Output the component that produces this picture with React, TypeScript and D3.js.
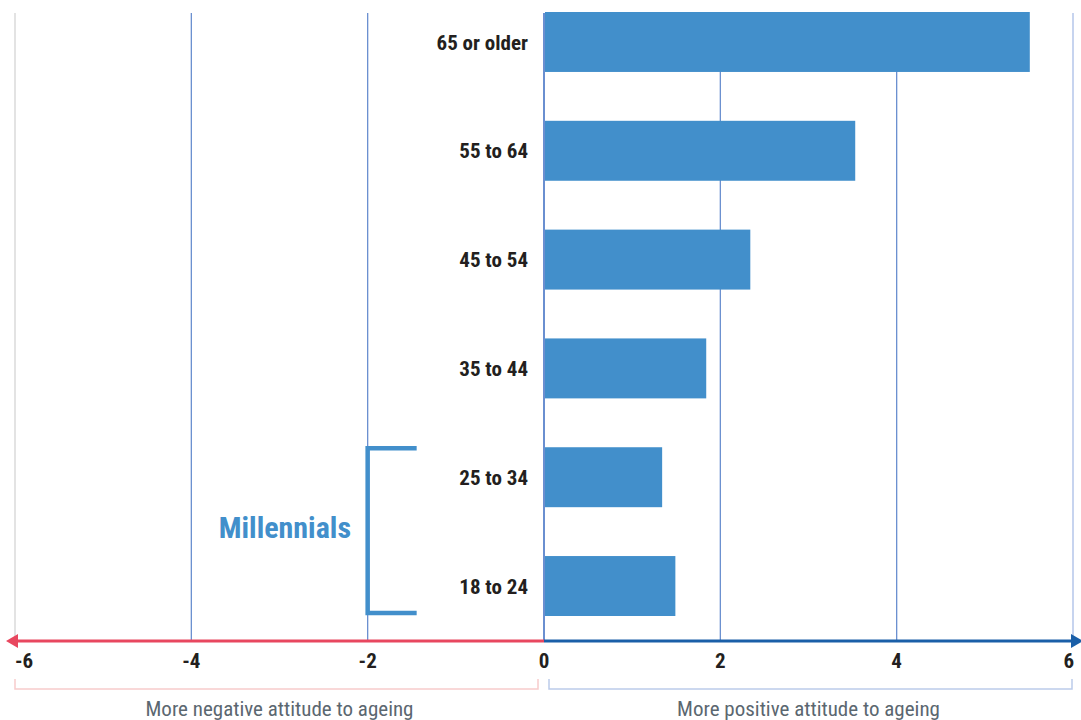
import React from "react";
import * as d3 from "d3";

const categories = ["65 or older", "55 to 64", "45 to 54", "35 to 44", "25 to 34", "18 to 24"];
const values = [5.51, 3.53, 2.34, 1.84, 1.34, 1.49];
const tickValues = [-6, -4, -2, 0, 2, 4, 6];
const negLabel = "More negative attitude to ageing";
const posLabel = "More positive attitude to ageing";
const groupLabel = "Millennials";
const groupCats = ["25 to 34", "18 to 24"];

const W = 1081;
const H = 720;
const FONT = "'Liberation Sans Narrow', 'Roboto Condensed', 'Arial Narrow', sans-serif";
const BAR = "#428fcb";
const GRID = "#6a8fd0";

export default function App() {
  const x = d3.scaleLinear().domain([-6, 6]).range([15, 1073]);
  const y = d3.scaleBand<string>().domain(categories).range([12, 616]).paddingInner(0.449).paddingOuter(0);
  const axisY = 641;
  const x0 = x(0);

  const gTop = (y(groupCats[0]) as number) + 1;
  const gBot = (y(groupCats[1]) as number) + y.bandwidth() - 3;
  const bx = x(-2);

  return (
    <div style={{ position: "fixed", left: 0, top: 0 }}>
      <svg width={W} height={H} style={{ display: "block", background: "#fff" }} fontFamily={FONT}>
        {/* gridlines */}
        {tickValues.map((t) => (
          <line
            key={"g" + t}
            x1={x(t)}
            x2={x(t)}
            y1={13}
            y2={axisY}
            stroke={t === -6 ? "#d4d4d4" : t === 6 ? "#a9bde6" : GRID}
            strokeWidth={t === 0 ? 2 : 1.3}
          />
        ))}
        {/* bars */}
        {categories.map((c, i) => (
          <rect key={c} x={x0 + 1} y={y(c)} width={x(values[i]) - x0 - 1} height={y.bandwidth()} fill={BAR} />
        ))}
        {/* category labels */}
        {categories.map((c) => (
          <text
            key={"l" + c}
            x={528}
            y={(y(c) as number) + y.bandwidth() / 2}
            dy="0.36em"
            textAnchor="end"
            fontSize={21}
            fontWeight="bold"
            fill="#231f20"
          >
            {c}
          </text>
        ))}
        {/* axis */}
        <line x1={14} x2={x0} y1={axisY} y2={axisY} stroke="#e8475f" strokeWidth={3} />
        <path d={`M6,${axisY} L18,${axisY - 7} L18,${axisY + 7} Z`} fill="#e8475f" />
        <line x1={x0} x2={1072} y1={axisY} y2={axisY} stroke="#1a5fa8" strokeWidth={3} />
        <path d={`M1083,${axisY} L1071,${axisY - 7} L1071,${axisY + 7} Z`} fill="#1a5fa8" />
        {/* tick labels */}
        {tickValues.map((t) => (
          <text
            key={"t" + t}
            x={t === -6 ? 15 : t === 6 ? 1074 : x(t)}
            y={668}
            textAnchor={t === -6 ? "start" : t === 6 ? "end" : "middle"}
            fontSize={21}
            fontWeight="bold"
            fill="#231f20"
          >
            {t}
          </text>
        ))}
        {/* brackets */}
        <path d={`M${x(-6)},679 V689 H${x0 - 6} V679`} fill="none" stroke="#f7cccc" strokeWidth={1.5} />
        <path d={`M${x0 + 5},679 V689 H${x(6) - 1} V679`} fill="none" stroke="#bccbea" strokeWidth={1.5} />
        <text x={(x(-6) + x0) / 2} y={716} textAnchor="middle" fontSize={21} fill="#5b6770">
          {negLabel}
        </text>
        <text x={(x0 + x(6)) / 2} y={716} textAnchor="middle" fontSize={21} fill="#5b6770">
          {posLabel}
        </text>
        {/* millennials bracket */}
        <path d={`M${bx + 49},${gTop} H${bx} V${gBot} H${bx + 49}`} fill="none" stroke={BAR} strokeWidth={4.5} />
        <text x={351} y={(gTop + gBot) / 2 - 3} dy="0.36em" textAnchor="end" fontSize={30} fontWeight="bold" fill={BAR}>
          {groupLabel}
        </text>
      </svg>
    </div>
  );
}
